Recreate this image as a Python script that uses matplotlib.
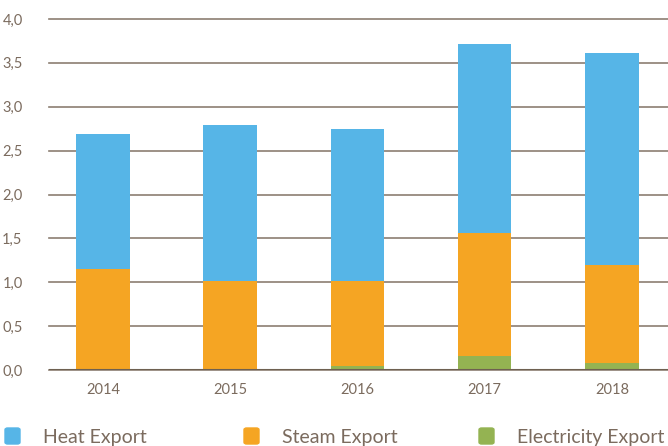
import matplotlib.pyplot as plt
from matplotlib.patches import FancyBboxPatch

years = ["2014", "2015", "2016", "2017", "2018"]
electricity = [0.0, 0.0, 0.05, 0.16, 0.08]
steam = [1.15, 1.01, 0.96, 1.40, 1.12]
heat = [1.54, 1.78, 1.74, 2.16, 2.41]
yticks = [0.0, 0.5, 1.0, 1.5, 2.0, 2.5, 3.0, 3.5, 4.0]

blue = "#56b5e7"
orange = "#f5a523"
green = "#94b352"
txt = "#7b6b5e"
gridc = "#8c7e72"

plt.rcParams['font.family'] = ['Lato', 'DejaVu Sans']

fig = plt.figure(figsize=(6.68, 4.46), dpi=100)
ax = fig.add_axes([49/668, 76/446, 1 - 49/668, (370-19)/446])

x = range(len(years))
w = 0.42
b2 = [e + s for e, s in zip(electricity, steam)]
ax.bar(x, electricity, w, color=green, zorder=2)
ax.bar(x, steam, w, bottom=electricity, color=orange, zorder=2)
ax.bar(x, heat, w, bottom=b2, color=blue, zorder=2)

ax.set_xlim(-0.424, 4.44)
ax.set_ylim(0, 4.0)
ax.set_yticks(yticks)
ax.set_yticklabels([f"{v:.1f}".replace(".", ",") for v in yticks])
ax.set_xticks(list(x))
ax.set_xticklabels(years)
ax.yaxis.grid(True, color=gridc, linewidth=1.2, zorder=1)
ax.axhline(0, color="#6e6050", linewidth=1.5, zorder=3)
for s in ax.spines.values():
    s.set_visible(False)
ax.tick_params(axis='both', length=0, colors=txt, labelsize=10.5)
ax.tick_params(axis='y', pad=19)
ax.tick_params(axis='x', pad=9)
for gl in ax.get_ygridlines():
    gl.set_clip_on(False)

labels = ["Heat Export", "Steam Export", "Electricity Export"]
colors = [blue, orange, green]
xs = [5, 244, 479]
for lx, lab, c in zip(xs, labels, colors):
    fig.patches.append(FancyBboxPatch((lx/668, 1 - 444/446), 15/668, 16/446,
                                      boxstyle="round,pad=0,rounding_size=0.004",
                                      transform=fig.transFigure, color=c))
    fig.text((lx + 38)/668, 1 - 437/446, lab, color=txt, fontsize=14,
             va='center', ha='left')

fig.savefig("out.png", dpi=100)
